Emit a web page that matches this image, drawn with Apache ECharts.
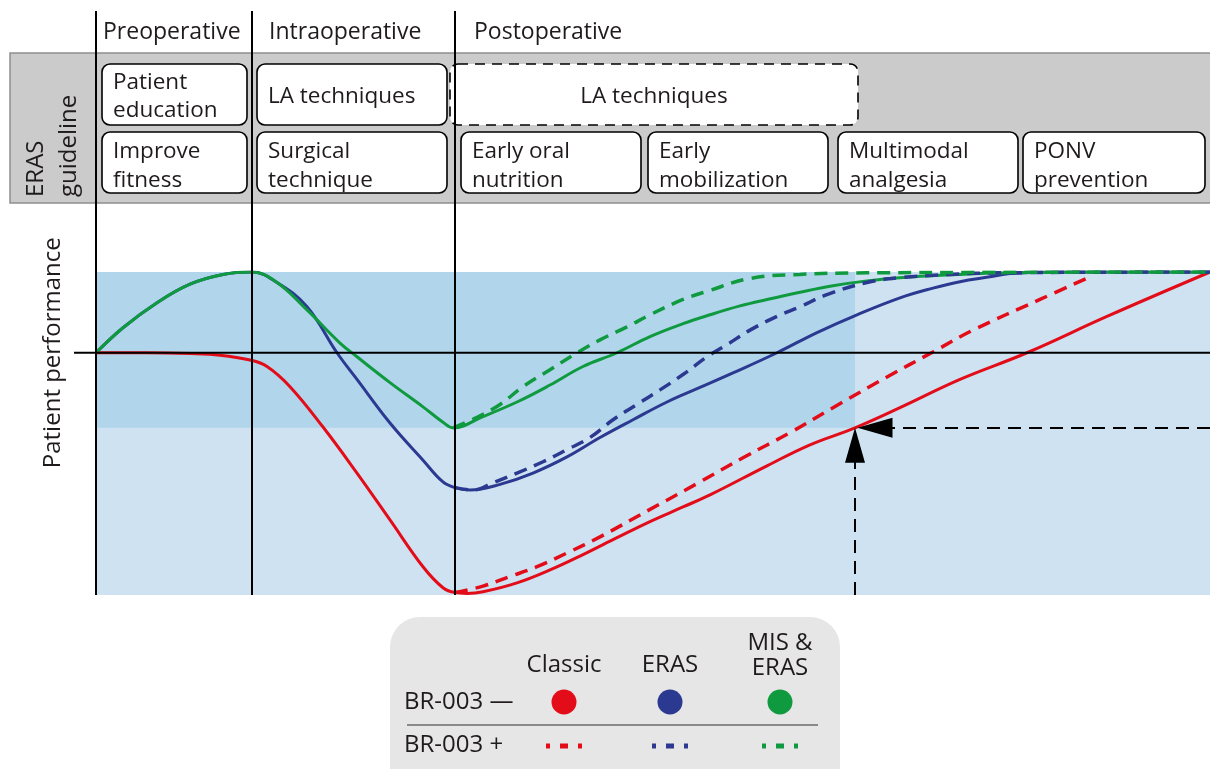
<!DOCTYPE html>
<html><head><meta charset="utf-8">
<script src="https://cdn.jsdelivr.net/npm/echarts@6/dist/echarts.min.js"></script>
<style>html,body{margin:0;padding:0;background:#fff}#c{width:1210px;height:769px}</style>
</head><body><div id="c"></div>
<script>
// ---------------- data (x: time units, y: patient performance, 100 = full performance) -------------
const phaseBounds = [0, 15.6, 35.9];
const phaseLabels = ['Preoperative', 'Intraoperative', 'Postoperative'];
const guidelineTitle = 'ERAS\nguideline';
const guidelineRow1 = ['Patient\neducation', 'LA techniques', 'LA techniques'];
const guidelineRow2 = ['Improve\nfitness', 'Surgical\ntechnique', 'Early oral\nnutrition', 'Early\nmobilization', 'Multimodal\nanalgesia', 'PONV\nprevention'];
const yAxisName = 'Patient performance';
const groupNames = ['Classic', 'ERAS', 'MIS &\nERAS'];
const rowNames = ['BR-003 \u2014', 'BR-003 +'];
const xRange = [0, 111.4];
const yRange = [-300, 100];
const targetPoint = [75.9, -93];

const classicSolid = [[0,0],[5,0],[9.4,-1],[12.4,-3],[15.4,-9],[17.1,-17],[19.4,-42],[22.7,-92],[26.1,-149],[29.4,-207],[32.7,-265],[34.7,-291],[35.9,-297],[37.1,-298],[38.7,-296],[42.1,-285],[45.4,-269],[48.7,-250],[52.1,-229],[55.4,-209],[58.7,-191],[61.4,-176],[67.1,-140],[71.4,-114],[75.9,-93],[80.4,-68],[86.4,-33],[93.1,0],[101.1,45],[111.4,100]];
const erasSolid = [[0,0],[2.7,31],[6.1,62],[9.4,85],[12.7,97],[15.6,100],[18.1,87],[21.1,57],[24.1,0],[26.1,-33],[29.4,-87],[32.7,-133],[34.7,-160],[35.9,-167],[37.4,-170],[40.4,-163],[43.7,-149],[47.1,-129],[50.4,-105],[53.7,-83],[57.1,-61],[60.4,-43],[63.7,-25],[68.1,0],[72.1,25],[76.1,47],[80.4,68],[83.7,80],[86.4,88],[89.4,94],[91.4,98],[95.4,100],[111.4,100]];
const misSolid = [[0,0],[2.7,31],[6.1,62],[9.4,85],[12.7,97],[15.6,100],[18.1,87],[21.1,53],[24.4,12],[26.1,-5],[29.4,-37],[32.7,-67],[34.7,-86],[35.7,-93],[38.7,-79],[42.1,-61],[45.4,-40],[48.7,-17],[52.1,0],[55.4,20],[58.7,36],[61.4,47],[64.4,58],[67.1,66],[70.4,75],[73.7,83],[77.1,89],[80.4,93],[86.4,97],[91.4,99],[100,100],[111.4,100]];
const classicDashed = [[35.9,-297],[38.7,-289],[41.4,-277],[44.1,-265],[47.1,-248],[50.4,-228],[55.4,-194],[60.4,-160],[64.7,-130],[69.4,-99],[73.7,-68],[79.1,-30],[83.7,1],[87.7,28],[94.4,66],[99.4,94]];
const erasDashed = [[35.9,-167],[37.7,-170],[39.7,-161],[42.1,-149],[44.7,-135],[47.1,-120],[49.4,-105],[51.7,-83],[54.1,-64],[56.4,-46],[58.7,-27],[61.1,-5],[63.1,10],[65.4,28],[68.1,45],[70.4,57],[73.1,72],[77.1,87],[80.4,93],[85.4,97],[90.4,99],[111.4,100]];
const misDashed = [[35.7,-93],[38.1,-80],[40.4,-64],[42.7,-42],[45.4,-21],[48.1,0],[50.4,16],[53.1,32],[55.4,47],[58.7,66],[61.1,76],[65.4,92],[70.4,97],[77.1,99],[111.4,100]];

// ---------------- styling ----------------
const COLORS = ['#e30d1a', '#2b3990', '#109a40'];
const FONT = '"Open Sans", sans-serif';
const TXT = '#1f1b1c';

const chart = echarts.init(document.getElementById('c'));

function curve(name, data, color, dashed, z) {
  return {
    name, type: 'line', data, smooth: 0.4, symbol: 'none', z,
    lineStyle: { color, width: dashed ? 3.5 : 3, type: dashed ? [13, 8] : 'solid', cap: 'butt' },
    silent: true, animation: false
  };
}

chart.setOption({
  animation: false,
  grid: { left: 96, right: 0, top: 272, bottom: 174 },
  xAxis: { type: 'value', min: xRange[0], max: xRange[1], show: false },
  yAxis: { type: 'value', min: yRange[0], max: yRange[1], show: false },
  series: [
    {
      type: 'line', data: [], z: 1, silent: true,
      markArea: {
        silent: true,
        data: [
          [{ coord: [xRange[0], yRange[0]], itemStyle: { color: '#cfe2f1' } }, { coord: [xRange[1], yRange[1]] }],
          [{ coord: [xRange[0], targetPoint[1]], itemStyle: { color: '#b1d5eb' } }, { coord: [targetPoint[0], yRange[1]] }]
        ]
      }
    },
    curve('Classic', classicSolid, COLORS[0], false, 3),
    curve('ERAS', erasSolid, COLORS[1], false, 3),
    curve('MIS & ERAS', misSolid, COLORS[2], false, 3),
    curve('Classic BR-003+', classicDashed, COLORS[0], true, 3),
    curve('ERAS BR-003+', erasDashed, COLORS[1], true, 3),
    curve('MIS & ERAS BR-003+', misDashed, COLORS[2], true, 3),
    {
      type: 'line', data: [], z: 5, silent: true,
      markLine: {
        silent: true, symbol: ['none', 'triangle'], symbolSize: [20, 35],
        label: { show: false },
        lineStyle: { color: '#000', width: 2, type: [13, 8] },
        data: [
          [{ coord: [targetPoint[0], yRange[0]] }, { coord: [targetPoint[0], targetPoint[1] - 21.7] }],
          [{ coord: [xRange[1], targetPoint[1]] }, { coord: [targetPoint[0] + 2, targetPoint[1]] }]
        ]
      }
    }
  ]
});

// ---------------- annotation layout (header, labels, legend) ----------------
const px = p => chart.convertToPixel({ gridIndex: 0 }, p);
const bottomY = px([0, yRange[0]])[1];
const baseL = px([-2.2, 0]), baseR = px([xRange[1], 0]);
const g = [];

// header band
g.push({ type: 'rect', z: 1, shape: { x: 10, y: 53, width: 1210, height: 150 }, style: { fill: '#cbcbcb', stroke: '#8e8e8e', lineWidth: 1.5 } });
g.push({ type: 'text', z: 6, x: 53, y: 197, rotation: Math.PI / 2,
  style: { text: guidelineTitle, font: '24px ' + FONT, fill: TXT, textAlign: 'left', textVerticalAlign: 'middle', lineHeight: 33 } });

const BOXFONT = '22.5px ' + FONT;
const row1Boxes = [[102, 145, false], [257, 190, false], [450, 408, true]];
const row2Boxes = [[102, 145], [257, 190], [461, 180], [648, 180], [838, 180], [1023, 182]];
row1Boxes.forEach((b, i) => {
  g.push({ type: 'rect', z: 5, shape: { x: b[0], y: 64, width: b[1], height: 61, r: 8 },
    style: { fill: '#fff', stroke: '#000', lineWidth: 1.6, lineDash: b[2] ? [10, 7] : null } });
  const center = b[2];
  g.push({ type: 'text', z: 6, x: center ? b[0] + b[1] / 2 : b[0] + 11, y: 97,
    style: { text: guidelineRow1[i], font: BOXFONT, fill: TXT, textAlign: center ? 'center' : 'left', textVerticalAlign: 'middle', lineHeight: 28 } });
});
row2Boxes.forEach((b, i) => {
  g.push({ type: 'rect', z: 5, shape: { x: b[0], y: 132, width: b[1], height: 61, r: 8 },
    style: { fill: '#fff', stroke: '#000', lineWidth: 1.6 } });
  g.push({ type: 'text', z: 6, x: b[0] + 11, y: 166,
    style: { text: guidelineRow2[i], font: BOXFONT, fill: TXT, textAlign: 'left', textVerticalAlign: 'middle', lineHeight: 29 } });
});

// phase divider lines and labels
const labelOffsets = [7, 17, 19];
phaseBounds.forEach((b, i) => {
  const x = px([b, 0])[0];
  g.push({ type: 'line', z: 10, shape: { x1: x, y1: 11, x2: x, y2: bottomY }, style: { stroke: '#000', lineWidth: 2 } });
  g.push({ type: 'text', z: 10, x: x + labelOffsets[i], y: 32,
    style: { text: phaseLabels[i], font: '23px ' + FONT, fill: TXT, textAlign: 'left', textVerticalAlign: 'middle' } });
});
// baseline
g.push({ type: 'line', z: 10, shape: { x1: baseL[0], y1: baseL[1], x2: baseR[0], y2: baseR[1] }, style: { stroke: '#000', lineWidth: 1.8 } });
// y axis name
g.push({ type: 'text', z: 10, x: 53, y: baseL[1], rotation: Math.PI / 2,
  style: { text: yAxisName, font: '24px ' + FONT, fill: TXT, textAlign: 'center', textVerticalAlign: 'middle' } });

// legend panel
g.push({ type: 'rect', z: 1, shape: { x: 390, y: 617, width: 450, height: 180, r: 30 }, style: { fill: '#e6e6e6' } });
const colX = [564, 670, 780];
groupNames.forEach((n, i) => {
  const two = n.indexOf('\n') >= 0;
  g.push({ type: 'text', z: 6, x: colX[i], y: two ? 656 : 665,
    style: { text: n, font: '24px ' + FONT, fill: TXT, textAlign: 'center', textVerticalAlign: 'middle', lineHeight: 25 } });
  g.push({ type: 'circle', z: 6, shape: { cx: colX[i], cy: 702, r: 12.5 }, style: { fill: COLORS[i] } });
  g.push({ type: 'line', z: 6, shape: { x1: colX[i] - 18, y1: 746, x2: colX[i] + 18, y2: 746 },
    style: { stroke: COLORS[i], lineWidth: 5, lineDash: [4, 10, 8, 10] } });
});
rowNames.forEach((n, i) => {
  g.push({ type: 'text', z: 6, x: 404, y: i === 0 ? 702 : 745,
    style: { text: n, font: '24px ' + FONT, fill: TXT, textAlign: 'left', textVerticalAlign: 'middle' } });
});
g.push({ type: 'line', z: 6, shape: { x1: 407, y1: 725, x2: 818, y2: 725 }, style: { stroke: '#8a8a8a', lineWidth: 2 } });

chart.setOption({ graphic: g });
</script></body></html>
